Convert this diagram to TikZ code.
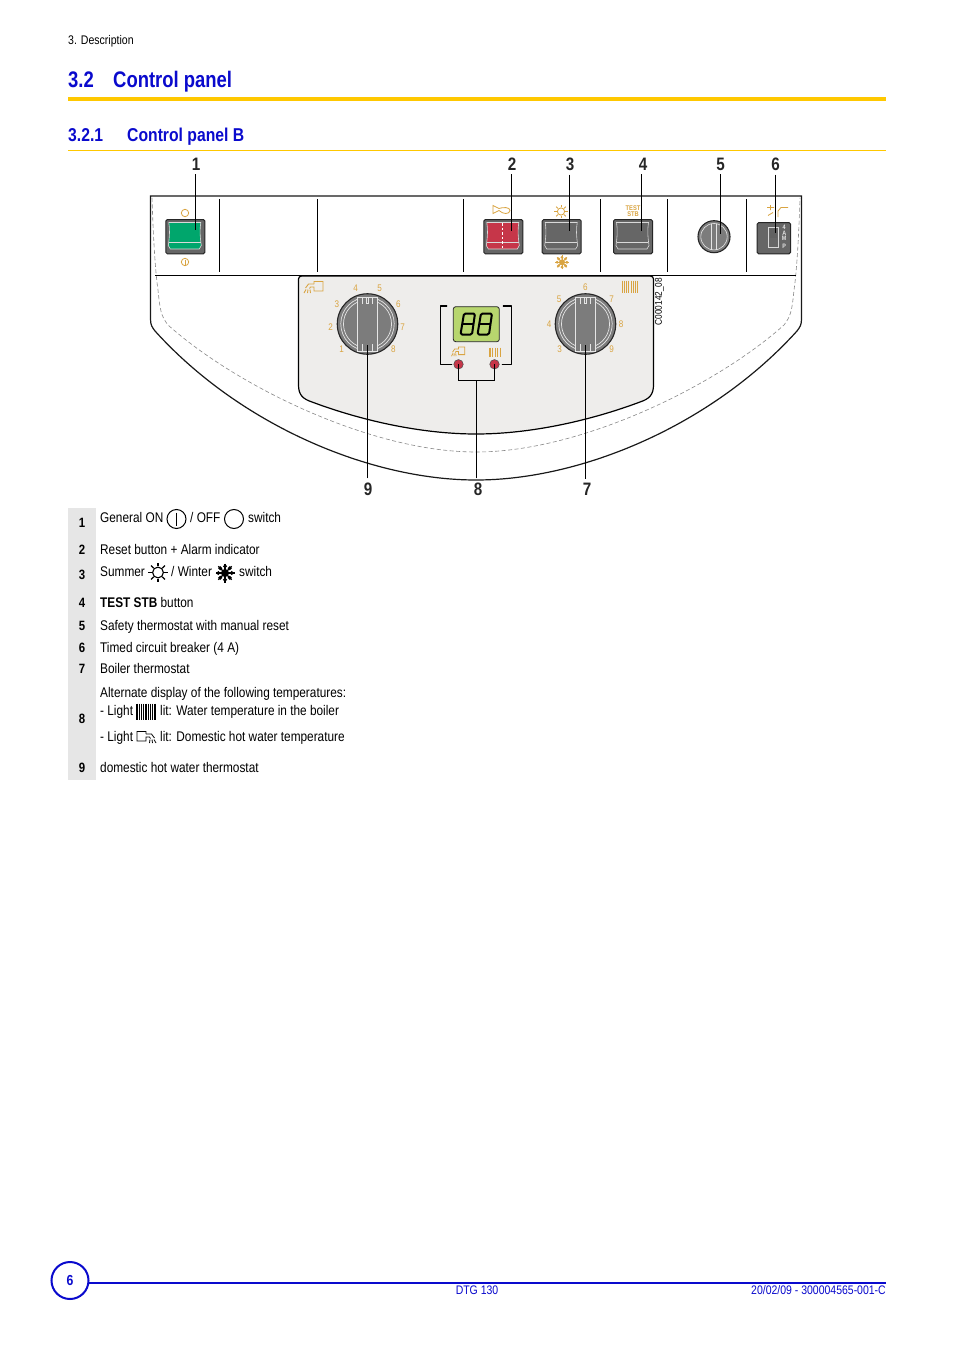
\documentclass[tikz,border=0pt]{standalone}
\usepackage{fontspec}
\setmainfont[FakeStretch=0.845]{Liberation Sans}
\newfontfamily\headfont[FakeStretch=0.82]{Liberation Sans}
\definecolor{hblue}{HTML}{0A0ACD}
\definecolor{rulegold}{HTML}{FFC800}
\definecolor{icongold}{HTML}{D9A441}
\definecolor{panelgrey}{HTML}{EEEDEB}
\definecolor{colgrey}{HTML}{E6E6E6}
\definecolor{btngrey}{HTML}{666666}
\definecolor{knobgrey}{HTML}{7C7C7C}
\definecolor{dashgrey}{HTML}{888888}
\definecolor{swgreen}{HTML}{00A66C}
\definecolor{swred}{HTML}{C63649}
\definecolor{lcd}{HTML}{B7D66E}
\newcommand{\fsz}[1]{\fontsize{#1}{#1}\selectfont}
\tikzset{
  body/.style={anchor=base west,inner sep=0pt,font=\fsz{14}},
  numcol/.style={anchor=base,inner sep=0pt,font=\bfseries\fsz{13.5}},
  callout/.style={inner xsep=0pt,inner ysep=4pt,font=\bfseries\fsz{18},text=black!85},
  leader/.style={draw=black,line width=1pt},
  scaletxt/.style={inner sep=0pt,font=\fsz{9.6},text=icongold},
  goldline/.style={draw=icongold,line width=0.8pt},
}
\newcommand{\knob}[3]{
  \node[circle,minimum size=60.5pt,inner sep=0pt,draw=black!85,line width=1.1pt,fill=knobgrey] (#3) at (#1,#2) {};
  \begin{scope}[shift={(#1,#2)},draw=white!90!black,line width=0.7pt]
    \draw (-10,-21.9) arc[start angle=245.5,end angle=114.5,radius=24];
    \draw (10,-21.9) arc[start angle=-65.5,end angle=65.5,radius=24];
    \draw (-10,-24.8) arc[start angle=248,end angle=112,radius=26.7];
    \draw (10,-24.8) arc[start angle=-68,end angle=68,radius=26.7];
    \draw (-10,-27) -- (-10,27) -- (10,27) -- (10,-27) -- cycle;
    \draw (-5,-27) -- (-5,-20) (5,-27) -- (5,-20);
    \draw (-1.3,-27) -- (-1.3,-21) -- (1.3,-21) -- (1.3,-27);
    \draw (-5,20) -- (-5,27) (5,20) -- (5,27);
  \end{scope}
}
\newcommand{\btnframe}[5]{
  \node[rectangle,rounded corners=1.5pt,draw=black!85,line width=1pt,fill=btngrey,inner sep=0pt,
        minimum width=#3pt,minimum height=#4pt,anchor=north west] (#5) at (#1,#2) {};
}
\newcommand{\rocker}[3]{
  \begin{scope}[shift={(#1,#2)}]
    \fill[#3] (3.5,3.5) -- (35.5,3.5) .. controls (34.5,10) and (34.5,16) .. (36,26.5) -- (34,30) -- (5,30) -- (3,26.5) .. controls (4.5,16) and (4.5,10) .. (3.5,3.5) -- cycle;
    \draw[white!85!black,line width=0.6pt] (3.5,3.5) -- (35.5,3.5) .. controls (34.5,10) and (34.5,16) .. (36,26.5) -- (34,30) -- (5,30) -- (3,26.5) .. controls (4.5,16) and (4.5,10) .. (3.5,3.5) -- cycle;
    \draw[white!85!black,line width=0.6pt] (3.6,23.5) -- (35.4,23.5);
  \end{scope}
}
\newcommand{\sunicon}[5]{%
  \begin{scope}[shift={(#1,#2)}]
    \draw[#5] (0,0) circle[radius=#3];
    \foreach \a in {0,45,...,315} \draw[#5] (\a:#3+0.7) -- (\a:#4);
  \end{scope}
}
\newcommand{\snowicon}[4]{%
  \begin{scope}[shift={(#1,#2)}]
    \foreach \a in {0,45,...,315} {
      \draw[#4] (0,0) -- (\a:#3);
      \fill[#4] (\a:#3*0.7) circle[radius=#3*0.14];
    }
    \fill[#4] (0,0) circle[radius=#3*0.36];
  \end{scope}
}
\newcommand{\tapicon}[5]{%
  \begin{scope}[shift={(#1,#2)},xscale=#3,yscale=#4]
    \draw[#5] (10,2.5) -- (10,0) -- (19,0) -- (19,9.5) -- (10,9.5) -- (10,5.5) -- (6.5,5.5) -- (5.5,7);
    \draw[#5] (10,2.5) -- (4.5,2.5) -- (1.5,6.5);
    \draw[#5] (2,8) -- (0,11.5) (4,8) -- (3.5,11.5) (6,8) -- (6.5,11.5);
  \end{scope}
}
\newcommand{\radicon}[6]{%
  \begin{scope}[shift={(#1,#2)}]
    \foreach \i in {0,...,#5} \draw[#6] ({#3*\i/#5},0) -- ({#3*\i/#5},#4);
  \end{scope}
}
\begin{document}
\begin{tikzpicture}[x=1pt,y=-1pt]
\useasboundingbox (0,0) rectangle (954,1351);
\fill[white] (0,0) rectangle (954,1351);

% header
\node[body,font=\fsz{12.5}] (hdr) at (68,44.7) {3. Description};
\node[body,font=\headfont\bfseries\fsz{22.5},text=hblue] (secn) at (68,87.5) {3.2};
\node[body,font=\headfont\bfseries\fsz{22.5},text=hblue] (sect) at (113,87.5) {Control panel};
\fill[rulegold] (68,97) rectangle (886,101);
\node[body,font=\bfseries\fsz{18.6},text=hblue] (subn) at (68,141.5) {3.2.1};
\node[body,font=\bfseries\fsz{18.6},text=hblue] (subt) at (127,141.5) {Control panel B};
\fill[rulegold] (68,150) rectangle (886,151);

% outer housing
\draw[black!90,line width=1.2pt] (150.5,196) -- (801.5,196) -- (801.5,319) .. controls (801.5,325) and (800,327) .. (797,331)
  .. controls (712,425) and (582,480) .. (476,480) .. controls (370,480) and (240,425) .. (155,331)
  .. controls (152,327) and (150.5,325) .. (150.5,319) -- cycle;
\draw[dashgrey,line width=0.6pt,dash pattern=on 4pt off 2.5pt] (152,198) .. controls (153,230) and (155,270) .. (158,290) .. controls (160,310) and (161,316) .. (168,325)
  .. controls (235,385) and (370,452) .. (476,452) .. controls (582,452) and (717,385) .. (784,325)
  .. controls (791,316) and (792,310) .. (794,290) .. controls (797,270) and (799,230) .. (800,198);
\draw[black,line width=1pt] (155,275) -- (796,275);
\foreach \x in {219.5,317.5,463.5,600.5,667.5,746.5}
  \draw[black,line width=1pt] (\x,199) -- (\x,271.5);

% grey control area
\draw[black,line width=1.2pt,fill=panelgrey] (298.5,279) arc[start angle=180,end angle=270,radius=3] -- (650.5,276) arc[start angle=270,end angle=360,radius=3]
  -- (653.5,385) .. controls (653.5,395) and (649,399) .. (640,402) .. controls (592,420) and (532,434) .. (476,434)
  .. controls (420,434) and (360,420) .. (312,402) .. controls (303,399) and (298.5,395) .. (298.5,385) -- cycle;

% upper buttons
\btnframe{165.3}{219}{39}{34.3}{btn1}
\rocker{165.3}{219}{swgreen}
\btnframe{483.3}{219}{39}{34.3}{btn2}
\rocker{483.3}{219}{swred}
\draw[white,line width=0.7pt,dash pattern=on 2.5pt off 2pt] (502.5,223) -- (502.5,249);
\btnframe{541.7}{219}{39}{34.3}{btn3}
\rocker{541.7}{219}{btngrey}
\btnframe{613}{219}{39}{34.3}{btn4}
\rocker{613}{219}{btngrey}

% button icons
\draw[goldline] (185,213) circle[radius=3.7];
\draw[goldline] (185,262) circle[radius=3.7];
\draw[goldline] (185,259.5) -- (185,264.5);
\draw[goldline] (493,205.5) -- (493,213.5) -- (499,210.5) .. controls (503,214.5) and (509.5,214.5) .. (510,210.5) .. controls (510,207) and (503,207) .. (499,208.5) -- cycle;
\sunicon{561}{211.5}{3.6}{6.8}{draw=icongold,fill=none,line width=0.8pt}
\snowicon{562}{262.3}{7}{draw=icongold,fill=icongold,line width=0.8pt}
\node[inner sep=0pt,font=\bfseries\fsz{6.8},text=icongold] (tst) at (633,208.3) {TEST};
\node[inner sep=0pt,font=\bfseries\fsz{6.8},text=icongold] (stb) at (633,214) {STB};
\draw[goldline] (767,207.5) -- (774,207.5) (770.5,205) -- (770.5,210) (768,215.5) -- (773,212.5);
\draw[goldline] (778,217) -- (778,211) -- (781,207.5) -- (788,207.5);

% safety thermostat
\node[circle,minimum size=32pt,inner sep=0pt,draw=black!85,line width=1.1pt,fill=knobgrey] (stat) at (714,236.7) {};
\draw[white!90!black,line width=0.6pt] (714,236.7) circle[radius=13.2];
\draw[white!90!black,line width=0.6pt] (711.5,224) -- (711.5,249.5) (716.5,224) -- (716.5,249.5);

% circuit breaker
\btnframe{756.7}{222}{33.3}{31.3}{brk}
\draw[white!85!black,line width=0.6pt,fill=btngrey] (767.8,227.3) rectangle (778.2,247.3);
\fill[black!62] (769.5,228.5) rectangle (776.5,238);
\foreach \yy/\ch/\nm in {227/4/a,233/A/b,238.5/M/c,246/P/d}
  \node[inner sep=0pt,font=\bfseries\fsz{6.4},text=white!90!black] (amp\nm) at (784.2,\yy) {\ch};

% icons in panel
\tapicon{304}{281.5}{1}{1}{draw=icongold,line width=0.9pt}
\radicon{622.5}{280.5}{15}{12}{7}{draw=icongold,line width=1pt}
\tapicon{451.5}{347}{0.7}{0.8}{draw=icongold,line width=0.8pt}
\radicon{490}{347.5}{10.5}{9}{4}{draw=icongold,line width=1.1pt}

% knobs
\knob{367.5}{324}{knobL}
\knob{585.5}{324}{knobR}
\foreach \n/\xx/\yy in {1/341.7/348.7,2/330.7/326.7,3/337/303.7,4/355.7/288,5/379.7/288.7,6/398.3/303.7,7/402.7/326.7,8/393.3/348.7}
  \node[scaletxt] (sl\n) at (\xx,\yy) {\n};
\foreach \n/\xx/\yy in {3/559.7/348.7,4/549/323.7,5/559/299,6/585.3/286.7,7/611.7/299,8/621/323.7,9/611.7/348.7}
  \node[scaletxt] (sr\n) at (\xx,\yy) {\n};

% display
\draw[black,line width=1.2pt,line cap=round,line join=round] (446.7,306) -- (440.7,306) -- (440.7,364.3) -- (451.7,364.3);
\draw[black,line width=1.2pt,line cap=round,line join=round] (503.3,306) -- (511.7,306) -- (511.7,364.3) -- (502.3,364.3);
\node[rectangle,rounded corners=2.5pt,draw=black!85,line width=0.8pt,fill=lcd,inner sep=0pt,minimum width=46pt,minimum height=35pt] (lcdp) at (476.3,324.2) {};
\foreach \dx in {0,17}{
  \begin{scope}[shift={(\dx,0)},line width=2pt,line join=round,black]
    \draw[rounded corners=1.5pt] (464,313.5) -- (475,313.5) -- (472,334.5) -- (460.5,334.5) -- cycle;
    \draw (462.5,324) -- (473.5,324);
  \end{scope}
}
\node[circle,minimum size=9.5pt,inner sep=0pt,draw=black!70,line width=0.5pt,fill=swred] (ledL) at (458.5,364.3) {};
\node[circle,minimum size=9.5pt,inner sep=0pt,draw=black!70,line width=0.5pt,fill=swred] (ledR) at (494.5,364.3) {};

\node[inner sep=0pt,rotate=90,font=\fsz{9.8}] (code) at (659.5,301.5) {C000142\_08};

% callouts
\node[callout] (n1) at (196,164) {1};
\node[callout] (n2) at (512,164) {2};
\node[callout] (n3) at (570,164) {3};
\node[callout] (n4) at (643,164) {4};
\node[callout] (n5) at (720.7,164) {5};
\node[callout] (n6) at (775.5,164) {6};
\node[callout] (n9) at (368,489) {9};
\node[callout] (n8) at (478,489) {8};
\node[callout] (n7) at (587,489) {7};
\coordinate (t1) at (195.5,230);
\coordinate (t2) at (511.5,231);
\coordinate (t3) at (569.5,231);
\coordinate (t4) at (641.5,231);
\coordinate (t5) at (720.5,234);
\coordinate (t6) at (775.5,233);
\coordinate (t9) at (367.5,345);
\coordinate (t7) at (585.5,345);
\coordinate (j8) at (476.5,380.5);
\foreach \k in {1,2,3,4,5,6} \draw[leader] (n\k.south -| t\k) -- (t\k);
\draw[leader] (n9.north -| t9) -- (t9);
\draw[leader] (n7.north -| t7) -- (t7);
\draw[leader] (n8.north -| j8) -- (j8);
\draw[leader] (ledL.center) -- (ledL |- j8) -- (ledR |- j8) -- (ledR.center);

% legend
\fill[colgrey] (68,508) rectangle (96,780);
\foreach \n/\yy in {1/527,2/554,3/579,4/607,5/630,6/652,7/673,8/723,9/772}
  \node[numcol] (leg\n) at (82,\yy) {\n};
\node[body] (t1a) at (100,522.7) {General ON};
\node[circle,minimum size=19pt,inner sep=0pt,draw=black,line width=1pt] (ionA) at (176.5,519) {};
\draw[black,line width=1pt] (176.5,512.5) -- (176.5,525.5);
\node[body] (t1b) at (190,522.7) {/ OFF};
\node[circle,minimum size=19pt,inner sep=0pt,draw=black,line width=1pt] (ioff) at (234,519) {};
\node[body] (t1c) at (248,522.7) {switch};
\node[body] (t2a) at (100,554) {Reset button + Alarm indicator};
\node[body] (t3a) at (100,576) {Summer};
\sunicon{158}{572.5}{5.4}{9.8}{draw=black,fill=none,line width=1.1pt}
\node[body] (t3b) at (171,576) {/ Winter};
\snowicon{225}{573}{9.5}{draw=black,fill=black,line width=1.1pt}
\node[body] (t3c) at (239,576) {switch};
\node[body] (t4a) at (100,607.2) {\textbf{TEST STB} button};
\node[body] (t5a) at (100,630) {Safety thermostat with manual reset};
\node[body] (t6a) at (100,652.2) {Timed circuit breaker (4 A)};
\node[body] (t7a) at (100,673.7) {Boiler thermostat};
\node[body] (t8a) at (100,697.2) {Alternate display of the following temperatures:};
\node[body] (t8b) at (100,715) {- Light};
\radicon{137}{703.5}{18}{16.5}{8}{draw=black,line width=1.1pt}
\node[body] (t8c) at (160,715) {lit: Water temperature in the boiler};
\node[body] (t8d) at (100,741) {- Light};
\tapicon{156}{731.5}{-1}{1}{draw=black,line width=0.8pt}
\node[body] (t8e) at (160,741) {lit: Domestic hot water temperature};
\node[body] (t9a) at (100,772.2) {domestic hot water thermostat};

% footer
\draw[hblue,line width=1.3pt] (88,1283) -- (886,1283);
\node[circle,minimum size=37pt,inner sep=0pt,draw=hblue,line width=2pt,fill=white,font=\bfseries\fsz{14.5},text=hblue] (pg) at (70,1280.5) {6};
\node[inner sep=0pt,anchor=base,font=\fsz{12.4},text=hblue] (ft1) at (477,1294) {DTG 130};
\node[inner sep=0pt,anchor=base east,font=\fsz{12.4},text=hblue] (ft2) at (886,1294) {20/02/09 - 300004565-001-C};
\end{tikzpicture}
\end{document}
